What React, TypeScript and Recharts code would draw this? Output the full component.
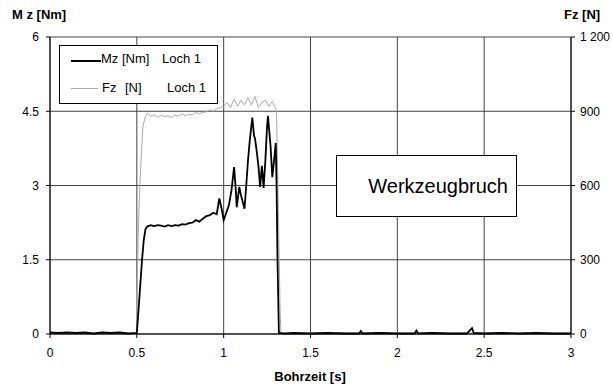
import React from 'react';
import { LineChart, Line, XAxis, YAxis, CartesianGrid } from 'recharts';

// Mz [Nm], Loch 1 (time in s)
const mzTime = [
  0, 0.05, 0.1, 0.15, 0.2, 0.25, 0.3, 0.35, 0.4, 0.45, 0.5,
  0.51, 0.52, 0.53, 0.54, 0.55, 0.56, 0.58, 0.6, 0.62, 0.64, 0.66, 0.68, 0.7, 0.72, 0.74,
  0.76, 0.78, 0.8, 0.82, 0.84, 0.86, 0.88, 0.9, 0.92, 0.94, 0.96, 0.975, 0.99, 1.0,
  1.01, 1.03, 1.045, 1.06, 1.07, 1.075, 1.09, 1.1, 1.12, 1.13, 1.14, 1.15, 1.165, 1.175,
  1.18, 1.19, 1.2, 1.21, 1.22, 1.23, 1.24, 1.25, 1.255, 1.265, 1.27, 1.28, 1.29, 1.3,
  1.305, 1.31, 1.318,
  1.35, 1.4, 1.5, 1.6, 1.7, 1.78, 1.79, 1.8, 1.9, 2.0, 2.1, 2.11, 2.12, 2.2, 2.3, 2.4,
  2.43, 2.44, 2.5, 2.6, 2.7, 2.8, 2.9, 3.0,
];
const mzValues = [
  0.03, 0.02, 0.03, 0.02, 0.03, 0.01, 0.03, 0.02, 0.03, 0.01, 0.02,
  0.5, 1.0, 1.5, 1.9, 2.12, 2.17, 2.2, 2.18, 2.2, 2.19, 2.17, 2.2, 2.18, 2.2, 2.19,
  2.22, 2.21, 2.24, 2.25, 2.3, 2.27, 2.33, 2.38, 2.4, 2.45, 2.42, 2.74, 2.5, 2.3,
  2.4, 2.6, 2.9, 3.37, 2.9, 2.56, 2.97, 2.8, 2.53, 3.0, 3.5, 3.9, 4.37, 4.0,
  3.96, 3.7, 3.4, 2.97, 3.4, 2.95, 3.5, 4.2, 4.41, 4.0, 3.8, 3.17, 3.5, 3.86,
  2.95, 1.5, 0.02,
  0.01, 0.02, 0.01, 0.02, 0.01, 0.01, 0.06, 0.01, 0.02, 0.01, 0.01, 0.07, 0.01, 0.02, 0.01, 0.01,
  0.12, 0.02, 0.01, 0.02, 0.01, 0.02, 0.01, 0.01,
];

// Fz [N], Loch 1
const fzTime = [
  0, 0.497, 0.507, 0.515, 0.525, 0.535, 0.55, 0.56, 0.58, 0.6, 0.62, 0.64, 0.66, 0.68,
  0.7, 0.72, 0.74, 0.76, 0.78, 0.8, 0.82, 0.84, 0.86, 0.88, 0.9, 0.92, 0.94, 0.96, 0.98,
  1.0, 1.02, 1.04, 1.06, 1.08, 1.1, 1.12, 1.14, 1.16, 1.18, 1.2, 1.22, 1.24, 1.26, 1.28,
  1.3, 1.305, 1.315, 1.325, 1.33, 1.5, 2.0, 2.5, 3.0,
];
const fzValues = [
  0, 0, 380, 560, 715, 840, 880, 893, 880, 885, 875, 885, 878, 882,
  875, 885, 880, 890, 882, 888, 885, 895, 890, 895, 898, 905, 900, 910, 915,
  920, 935, 915, 950, 920, 945, 925, 955, 925, 960, 915, 935, 945, 920, 940,
  910, 880, 500, 100, 0, 4, 4, 4, 4,
];

const xTicks = [0, 0.5, 1, 1.5, 2, 2.5, 3];
const mzTicks = [0, 1.5, 3, 4.5, 6];
const fzTicks = [0, 300, 600, 900, 1200];

const mzData = mzTime.map((t, i) => ({ t, mz: mzValues[i] }));
const fzData = fzTime.map((t, i) => ({ t, fz: fzValues[i] }));

const font = '"Liberation Sans", Arial, sans-serif';
const tickStyle = { fontSize: 12, fill: '#000', fontFamily: font };

// "1200" -> "1 200" (non-breaking so the tick doesn't wrap)
const fzFormat = (v: number) =>
  v >= 1000 ? `${Math.floor(v / 1000)}\u00a0${String(v % 1000).padStart(3, '0')}` : `${v}`;

const App = () => {
  return (
    <div style={{ position: 'relative', width: 613, height: 388, background: '#fff', fontFamily: font }}>
      <style>{'body{margin:0}'}</style>
      <LineChart width={613} height={388} margin={{ top: 37, right: 8, left: 8, bottom: 24 }}>
        <CartesianGrid yAxisId="left" stroke="#444" strokeWidth={1} />
        <XAxis
          type="number"
          dataKey="t"
          domain={[0, 3]}
          ticks={xTicks}
          allowDataOverflow
          height={30}
          tick={tickStyle}
          stroke="#000"
          tickSize={4}
          tickMargin={10}
        />
        <YAxis
          yAxisId="left"
          domain={[0, 6]}
          ticks={mzTicks}
          width={42}
          tick={tickStyle}
          stroke="#000"
          tickSize={4}
          tickMargin={7}
        />
        <YAxis
          yAxisId="right"
          orientation="right"
          domain={[0, 1200]}
          ticks={fzTicks}
          width={34}
          tick={tickStyle}
          stroke="#000"
          tickSize={4}
          tickMargin={5}
          tickFormatter={fzFormat}
        />
        <Line
          yAxisId="right"
          data={fzData}
          dataKey="fz"
          type="linear"
          stroke="#aaa"
          strokeWidth={1}
          dot={false}
          isAnimationActive={false}
        />
        <Line
          yAxisId="left"
          data={mzData}
          dataKey="mz"
          type="linear"
          stroke="#000"
          strokeWidth={1.8}
          dot={false}
          isAnimationActive={false}
        />
      </LineChart>

      {/* axis titles */}
      <div style={{ position: 'absolute', left: 12, top: 7, fontSize: 13, fontWeight: 'bold' }}>M z [Nm]</div>
      <div style={{ position: 'absolute', left: 564, top: 7, fontSize: 13, fontWeight: 'bold' }}>Fz [N]</div>
      <div style={{ position: 'absolute', left: 210, width: 200, textAlign: 'center', top: 369, fontSize: 13, fontWeight: 'bold' }}>
        Bohrzeit [s]
      </div>

      {/* legend */}
      <div style={{ position: 'absolute', left: 59, top: 45, width: 157, height: 57, border: '1px solid #000', background: '#fff', fontSize: 13 }}>
        <div style={{ position: 'absolute', left: 11, top: 14, width: 30, height: 2, background: '#000' }} />
        <div style={{ position: 'absolute', left: 41, top: 5 }}>Mz [Nm]</div>
        <div style={{ position: 'absolute', left: 102, top: 5 }}>Loch 1</div>
        <div style={{ position: 'absolute', left: 11, top: 42, width: 27, height: 1, background: '#aaa' }} />
        <div style={{ position: 'absolute', left: 42, top: 34 }}>Fz</div>
        <div style={{ position: 'absolute', left: 65, top: 34 }}>[N]</div>
        <div style={{ position: 'absolute', left: 107, top: 34 }}>Loch 1</div>
      </div>

      {/* annotation */}
      <div
        style={{
          position: 'absolute',
          left: 336,
          top: 155,
          width: 181,
          height: 62,
          border: '1px solid #000',
          background: '#fff',
          fontSize: 20,
          display: 'flex',
          alignItems: 'center',
          justifyContent: 'flex-end',
          paddingRight: 8,
          boxSizing: 'border-box',
        }}
      >
        Werkzeugbruch
      </div>
    </div>
  );
};

export default App;
